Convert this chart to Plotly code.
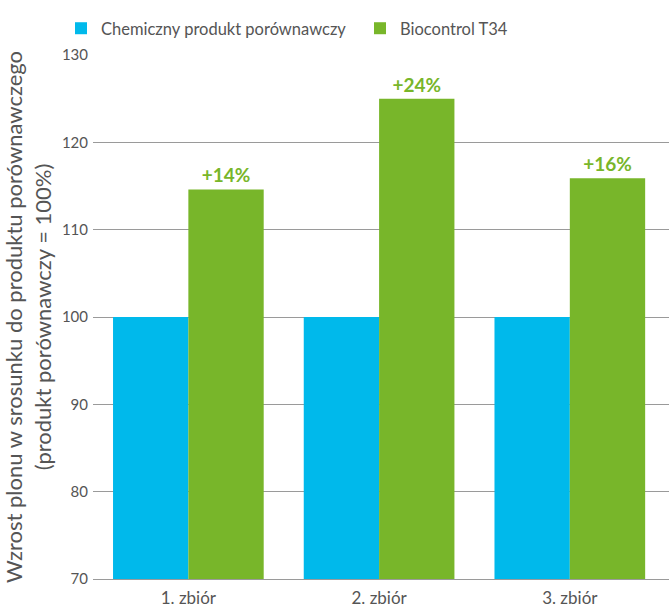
import plotly.graph_objects as go

categories = ["1. zbiór", "2. zbiór", "3. zbiór"]
chem_values = [100, 100, 100]
bio_values = [114.6, 125.0, 115.9]
bio_labels = ["+14%", "+24%", "+16%"]
series_names = ["Chemiczny produkt porównawczy", "Biocontrol T34"]
y_ticks = [70, 80, 90, 100, 110, 120, 130]

BLUE = "#00B9EB"
GREEN = "#78B62A"
GRAY = "#555555"
FONT = "Lato"

fig = go.Figure()
fig.add_trace(go.Bar(x=categories, y=chem_values, name=series_names[0],
                     marker=dict(color=BLUE, line=dict(width=0)), legend="legend"))
fig.add_trace(go.Bar(x=categories, y=bio_values, name=series_names[1],
                     marker=dict(color=GREEN, line=dict(width=0)), legend="legend2",
                     text=bio_labels, textposition="outside",
                     textfont=dict(color=GREEN, size=19, family=FONT, weight="bold"),
                     cliponaxis=False))

legend_common = dict(orientation="h", xref="container", xanchor="left",
                     y=1 - 11 / 608, yref="container", yanchor="top",
                     bgcolor="rgba(0,0,0,0)",
                     font=dict(size=16.5, color=GRAY, family=FONT),
                     itemclick=False)

fig.update_layout(
    width=669, height=608,
    margin=dict(l=93, r=0, t=55, b=29, autoexpand=False),
    paper_bgcolor="white", plot_bgcolor="white",
    font=dict(family=FONT, color=GRAY, size=15),
    barmode="group", bargap=0.21, bargroupgap=0,
    legend=dict(legend_common, x=61 / 669),
    legend2=dict(legend_common, x=360 / 669),
    showlegend=True,
)

fig.update_yaxes(range=[70, 130], tickvals=y_ticks, showgrid=True, gridcolor="#9a9a9a",
                 gridwidth=1, zeroline=False, showline=False, ticks="",
                 tickfont=dict(size=15, color=GRAY), ticklabelstandoff=4,
                 title=dict(text="Wzrost plonu w srosunku do produktu porównawczego<br>(produkt porównawczy = 100%)",
                            font=dict(size=22, color=GRAY), standoff=5))
fig.update_xaxes(showline=True, linecolor="#9a9a9a", linewidth=1, ticks="",
                 tickfont=dict(size=17, color=GRAY), range=[-0.5, 2.52],
                 ticklabelstandoff=4)

fig.write_html("out.html")
